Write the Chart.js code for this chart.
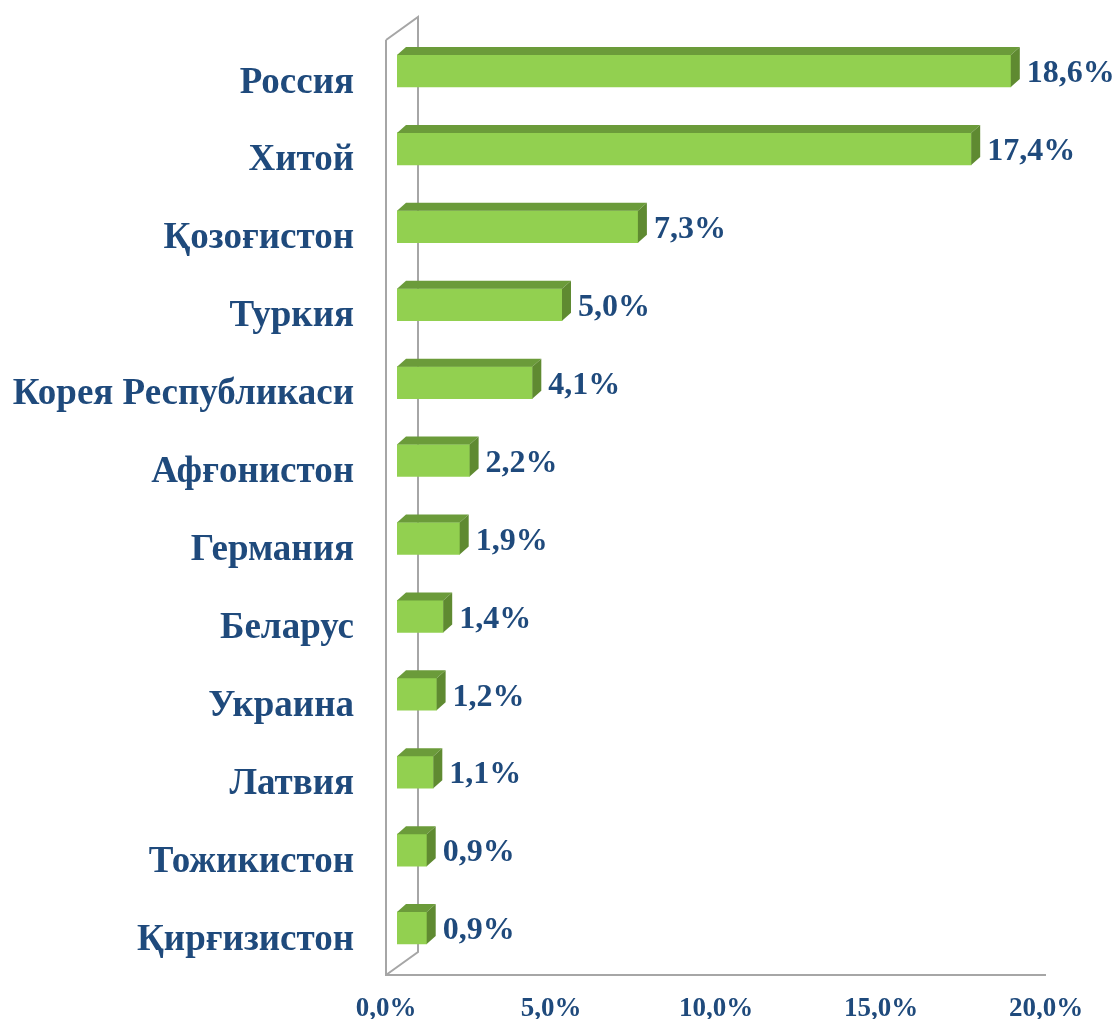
<!DOCTYPE html>
<html>
<head>
<meta charset="utf-8">
<script src="https://cdn.jsdelivr.net/npm/chart.js@4.4.1/dist/chart.umd.min.js"></script>
<style>
  html, body { margin: 0; padding: 0; background: #ffffff; }
  #wrap { width: 1114px; height: 1019px; position: relative; }
</style>
</head>
<body>
<div id="wrap"><canvas id="myChart" width="1114" height="1019"></canvas></div>
<script>
const categories = [
  "Россия", "Хитой", "Қозоғистон", "Туркия", "Корея Республикаси",
  "Афғонистон", "Германия", "Беларус", "Украина", "Латвия",
  "Тожикистон", "Қирғизистон"
];
const shares = [18.6, 17.4, 7.3, 5.0, 4.1, 2.2, 1.9, 1.4, 1.2, 1.1, 0.9, 0.9];
const xTicks = [0, 5, 10, 15, 20];

const textColor = "#1f4a7c";
const serif = "'Liberation Serif', 'Times New Roman', serif";

// desplazamiento de las barras dentro de la profundidad (3D)
const shiftX = 11, shiftY = -8;
const depthX = 9, depthY = -8;
const wallX = 32, wallY = -23;

function fmt(v) {
  return v.toFixed(1).replace(".", ",") + "%";
}

const walls3d = {
  id: "walls3d",
  beforeDatasetsDraw(chart) {
    const { ctx, chartArea: a } = chart;
    ctx.save();
    ctx.strokeStyle = "#a6a6a6";
    ctx.lineWidth = 2;
    ctx.beginPath();
    // borde frontal izquierdo y suelo
    ctx.moveTo(a.left, a.top);
    ctx.lineTo(a.left, a.bottom);
    ctx.lineTo(a.right, a.bottom);
    // pared del fondo
    ctx.moveTo(a.left, a.top);
    ctx.lineTo(a.left + wallX, a.top + wallY);
    ctx.lineTo(a.left + wallX, a.bottom + wallY);
    ctx.lineTo(a.left, a.bottom);
    ctx.stroke();
    ctx.restore();
    ctx.save();
    ctx.translate(shiftX, shiftY);
  },
  afterDatasetsDraw(chart) {
    const { ctx } = chart;
    const meta = chart.getDatasetMeta(0);
    meta.data.forEach((bar, i) => {
      const h = bar.height;
      const top = bar.y - h / 2;
      const x0 = bar.base, x1 = bar.x;
      // cara superior
      ctx.fillStyle = "#6b9b3a";
      ctx.beginPath();
      ctx.moveTo(x0, top);
      ctx.lineTo(x0 + depthX, top + depthY);
      ctx.lineTo(x1 + depthX, top + depthY);
      ctx.lineTo(x1, top);
      ctx.closePath();
      ctx.fill();
      // cara lateral
      ctx.fillStyle = "#5f8a31";
      ctx.beginPath();
      ctx.moveTo(x1, top);
      ctx.lineTo(x1 + depthX, top + depthY);
      ctx.lineTo(x1 + depthX, top + h + depthY);
      ctx.lineTo(x1, top + h);
      ctx.closePath();
      ctx.fill();
      // etiqueta
      ctx.fillStyle = textColor;
      ctx.font = "bold 32px " + serif;
      ctx.textAlign = "left";
      ctx.textBaseline = "middle";
      ctx.fillText(fmt(shares[i]), x1 + depthX + 7, bar.y + 3);
    });
    ctx.restore();
  }
};

const ctx = document.getElementById("myChart").getContext("2d");
const miGrafico = new Chart(ctx, {
  type: "bar",
  data: {
    labels: categories,
    datasets: [
      {
        data: shares,
        backgroundColor: "#92d050",
        borderWidth: 0,
        barThickness: 32,
      },
    ],
  },
  options: {
    indexAxis: "y",
    responsive: false,
    animation: false,
    layout: { padding: { top: 40, right: 68, left: 0, bottom: 0 } },
    plugins: {
      legend: { display: false },
      tooltip: { enabled: false },
    },
    scales: {
      x: {
        min: 0,
        max: 20,
        afterBuildTicks: (scale) => {
          scale.ticks = xTicks.map((v) => ({ value: v }));
        },
        afterFit: (scale) => {
          scale.height = 44;
          scale.paddingLeft = 0;
          scale.paddingRight = 0;
        },
        grid: { display: false, drawTicks: false },
        border: { display: false },
        ticks: {
          color: textColor,
          font: { family: serif, size: 27, weight: "bold" },
          padding: 18,
          maxRotation: 0,
          callback: (v) => fmt(v),
        },
      },
      y: {
        afterFit: (scale) => {
          scale.width = 386;
          scale.paddingTop = 0;
          scale.paddingBottom = 0;
        },
        grid: { display: false, drawTicks: false },
        border: { display: false },
        ticks: {
          color: textColor,
          font: { family: serif, size: 37, weight: "bold" },
          padding: 32,
          labelOffset: 4,
        },
      },
    },
  },
  plugins: [walls3d],
});
</script>
</body>
</html>
